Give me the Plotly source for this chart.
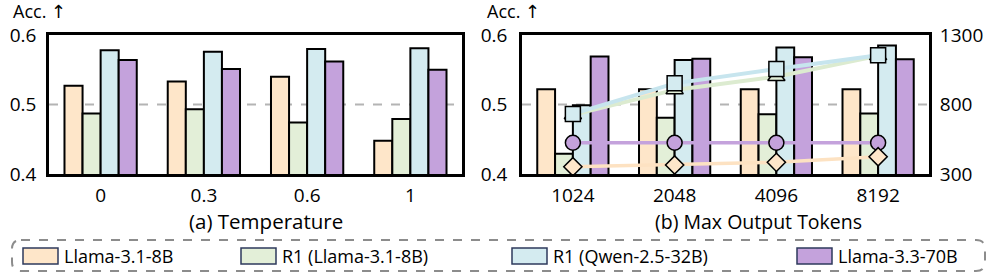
import re
import plotly.graph_objects as go

W, H = 997, 278

temps = ["0", "0.3", "0.6", "1"]
tokens = ["1024", "2048", "4096", "8192"]
models = ["Llama-3.1-8B", "R1 (Llama-3.1-8B)", "R1 (Qwen-2.5-32B)", "Llama-3.3-70B"]

# (a) accuracy vs temperature
temp_llama8b = [0.527, 0.533, 0.540, 0.448]
temp_r1_llama8b = [0.487, 0.493, 0.474, 0.479]
temp_r1_qwen32b = [0.578, 0.576, 0.580, 0.581]
temp_llama70b = [0.564, 0.551, 0.562, 0.550]

# (b) accuracy vs max output tokens
tok_llama8b = [0.522, 0.522, 0.522, 0.522]
tok_r1_llama8b = [0.429, 0.481, 0.486, 0.487]
tok_r1_qwen32b = [0.499, 0.564, 0.582, 0.585]
tok_llama70b = [0.569, 0.566, 0.568, 0.565]

# (b) average output length (right axis)
len_llama8b = [352, 365, 384, 424]
len_r1_llama8b = [725, 905, 1000, 1150]
len_r1_qwen32b = [732, 952, 1055, 1154]
len_llama70b = [525, 525, 525, 525]

fills = ["#FEE6C9", "#E3EFD8", "#D4EBF0", "#C4A2DC"]
line_cols = ["#FDE2C2", "#DCEBD0", "#C7E5EE", "#C4A2DC"]
symbols = ["diamond", "triangle-up", "square", "circle"]

FONT = "Open Sans, DejaVu Sans"

fig = go.Figure()

acc_a = [temp_llama8b, temp_r1_llama8b, temp_r1_qwen32b, temp_llama70b]
acc_b = [tok_llama8b, tok_r1_llama8b, tok_r1_qwen32b, tok_llama70b]
lens = [len_llama8b, len_r1_llama8b, len_r1_qwen32b, len_llama70b]

for i, m in enumerate(models):
    fig.add_trace(go.Bar(x=temps, y=acc_a[i], name=m, marker=dict(color=fills[i], line=dict(color="black", width=2)),
                         xaxis="x", yaxis="y", showlegend=False, offsetgroup=str(i)))
for i, m in enumerate(models):
    fig.add_trace(go.Bar(x=tokens, y=acc_b[i], name=m, marker=dict(color=fills[i], line=dict(color="black", width=2)),
                         xaxis="x2", yaxis="y2", showlegend=False, offsetgroup=str(i)))

for i in [1, 2, 3, 0]:
    fig.add_trace(go.Scatter(x=tokens, y=lens[i], name=models[i] + " length", mode="lines+markers",
                             line=dict(color=line_cols[i], width=4 if i in (1, 2) else 3.5),
                             marker=dict(symbol=symbols[i], size=15 if i != 0 else 14, color=fills[i],
                                         line=dict(color="black", width=1.5)),
                             xaxis="x2", yaxis="y3", showlegend=False))


def px(x):
    return x / W


def py(y):
    return 1 - y / H


ydom = [py(174), py(35)]
line_common = dict(showline=True, linecolor="black", linewidth=2.5, mirror=True, showgrid=False, zeroline=False,
                   automargin=False)
ytick_font = dict(family=FONT, size=19, color="black")
xtick_font = dict(family=FONT, size=19, color="black")

fig.update_layout(
    width=W, height=H, margin=dict(l=0, r=0, t=0, b=0, pad=0, autoexpand=False),
    paper_bgcolor="white", plot_bgcolor="white",
    barmode="group", bargap=0.3, bargroupgap=0,
    font=dict(family=FONT, color="black"),
    xaxis=dict(domain=[px(49), px(462)], type="category", ticks="outside", ticklen=0, ticklabelstandoff=2,
               tickfont=xtick_font, **line_common),
    yaxis=dict(domain=ydom, range=[0.4, 0.6], tickvals=[0.4, 0.5, 0.6], ticktext=["0.4", "0.5", "0.6"],
               ticks="outside", ticklen=0, ticklabelstandoff=6, tickfont=ytick_font, **line_common),
    xaxis2=dict(domain=[px(522), px(929)], type="category", anchor="y2", ticks="outside", ticklen=0,
                ticklabelstandoff=2, tickfont=xtick_font, **line_common),
    yaxis2=dict(domain=ydom, range=[0.4, 0.6], anchor="x2", tickvals=[0.4, 0.5, 0.6], ticktext=["0.4", "0.5", "0.6"],
                ticks="outside", ticklen=0, ticklabelstandoff=8, tickfont=ytick_font, **line_common),
    yaxis3=dict(overlaying="y2", side="right", anchor="x2", range=[300, 1300], tickvals=[300, 800, 1300],
                ticks="outside", ticklen=0, ticklabelstandoff=6, showgrid=False, zeroline=False, showline=False,
                automargin=False, tickfont=ytick_font),
)

# dashed reference line at 0.5
for xr, yr in [("x domain", "y"), ("x2 domain", "y2")]:
    fig.add_shape(type="line", xref=xr, yref=yr, x0=0, x1=1, y0=0.5, y1=0.5, layer="below",
                  line=dict(color="#B4B4B4", width=2, dash="dash"))

# axis labels
for xp, txt in [(12, "Acc. ↑"), (486, "Acc. ↑")]:
    fig.add_annotation(x=px(xp), y=py(11), xref="paper", yref="paper", text=txt, showarrow=False,
                       xanchor="left", yanchor="middle", borderpad=0,
                       font=dict(family=FONT, size=18, color="black"))
for xc, txt, fs in [(266, "(a) Temperature", 20.5), (758, "(b) Max Output Tokens", 19.5)]:
    fig.add_annotation(x=px(xc), y=py(221), xref="paper", yref="paper", text=txt, showarrow=False,
                       xanchor="center", yanchor="middle", font=dict(family=FONT, size=fs, color="black"))

# legend box (dashed, rounded)
x0, x1, y0, y1, r = 12, 985, 240, 271, 9
path = (f"M {x0 + r},{y0} L {x1 - r},{y0} Q {x1},{y0} {x1},{y0 + r} L {x1},{y1 - r} Q {x1},{y1} {x1 - r},{y1} "
        f"L {x0 + r},{y1} Q {x0},{y1} {x0},{y1 - r} L {x0},{y0 + r} Q {x0},{y0} {x0 + r},{y0} Z")


def conv(match):
    a, b = float(match.group(1)), float(match.group(2))
    return f"{px(a):.5f},{py(b):.5f}"


path_paper = re.sub(r"([\d.]+),([\d.]+)", conv, path)
fig.add_shape(type="path", xref="paper", yref="paper", path=path_paper,
              line=dict(color="#8C8C8C", width=2, dash="dash"), fillcolor="rgba(0,0,0,0)")

sw_x = [23, 241, 512, 797]
for i, m in enumerate(models):
    fig.add_shape(type="rect", xref="paper", yref="paper", x0=px(sw_x[i]), x1=px(sw_x[i] + 35),
                  y0=py(264), y1=py(248), fillcolor=fills[i], line=dict(color="#2E3A5C", width=1.5))
    fig.add_annotation(x=px(sw_x[i] + 39), y=py(256), xref="paper", yref="paper", text=m, showarrow=False,
                       xanchor="left", yanchor="middle", font=dict(family=FONT, size=18, color="black"))

fig.write_html(
    "out.html",
    config={"displayModeBar": False},
    post_script="document.body.style.margin='0px';document.documentElement.style.overflow='hidden';",
)
